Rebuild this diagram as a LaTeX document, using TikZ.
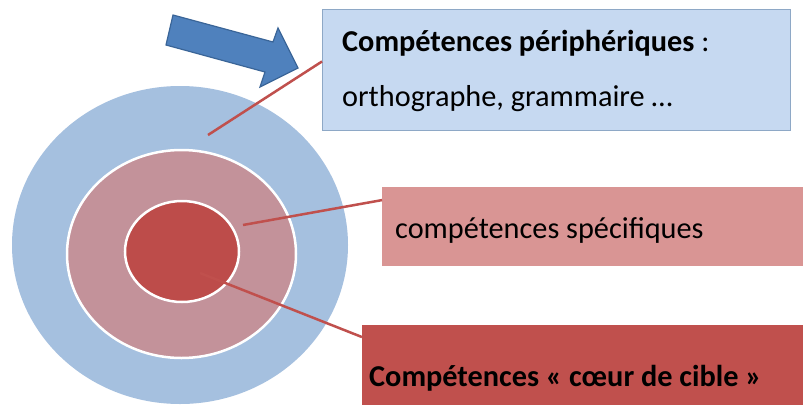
\documentclass[tikz,border=0pt]{standalone}
\usepackage{fontspec}
\setmainfont{Carlito}
\usetikzlibrary{shapes.geometric,calc}
\definecolor{ringout}{HTML}{A5C0DF}
\definecolor{ringmid}{HTML}{C3929A}
\definecolor{ringin}{HTML}{BD4C4A}
\definecolor{boxblue}{HTML}{C6D9F1}
\definecolor{boxblueedge}{HTML}{8EA8C6}
\definecolor{boxpink}{HTML}{D99594}
\definecolor{boxred}{HTML}{C0504D}
\definecolor{arrowfill}{HTML}{4F81BD}
\definecolor{arrowedge}{HTML}{3A6598}
\definecolor{linkred}{HTML}{C0504D}
\tikzset{
  ring/.style={ellipse, inner sep=0pt},
  panel/.style={rectangle, inner sep=0pt, anchor=north west},
  label/.style={inner sep=0pt, anchor=base west, font=\fontsize{30.3}{36}\selectfont},
  link/.style={draw=linkred, line width=2.5pt},
}
\begin{document}
\begin{tikzpicture}[x=1pt,y=-1pt]
\useasboundingbox[fill=white] (0,0) rectangle (803,405);
% target rings
\node[ring, fill=ringout, minimum width=336, minimum height=318] (outer) at (180,245) {};
\node[ring, fill=ringmid, draw=white, line width=2.5pt, minimum width=229, minimum height=208] (middle) at (181.5,254) {};
\node[ring, fill=ringin, draw=white, line width=2.5pt, minimum width=114, minimum height=101] (inner) at (182,251.5) {};
% boxes
\node[panel, fill=boxblue, draw=boxblueedge, line width=1pt, minimum width=468, minimum height=121] (topbox) at (322,9) {};
\node[panel, fill=boxpink, minimum width=421, minimum height=79] (midbox) at (382,187) {};
\node[panel, fill=boxred, minimum width=441, minimum height=80] (botbox) at (362,325) {};
% texts
\node[label] (t1) at (342,51) {\textbf{Compétences périphériques} :};
\node[label] (t2) at (342,106) {orthographe, grammaire …};
\node[label] (t3) at (395,238) {compétences spécifiques};
\node[label] (t4) at (369,386) {\textbf{Compétences « cœur de cible »}};
% connector anchors inside rings
\coordinate (pout) at (208,135);
\coordinate (pmid) at (243,225);
\coordinate (pin) at (200,273);
\draw[link] (pout) -- ($(topbox.north west)!0.43!(topbox.south west)$);
\draw[link] (pmid) -- ($(midbox.north west)!0.165!(midbox.south west)$);
\draw[link] (pin) -- ($(botbox.north west)!0.15!(botbox.south west)$);
% blue block arrow
\draw[fill=arrowfill, draw=arrowedge, line width=1.2pt, line join=miter]
  (173,15) -- (273,42) -- (278,28) -- (298,68) -- (260,87) -- (265,72) -- (166,45) -- cycle;
\end{tikzpicture}
\end{document}
